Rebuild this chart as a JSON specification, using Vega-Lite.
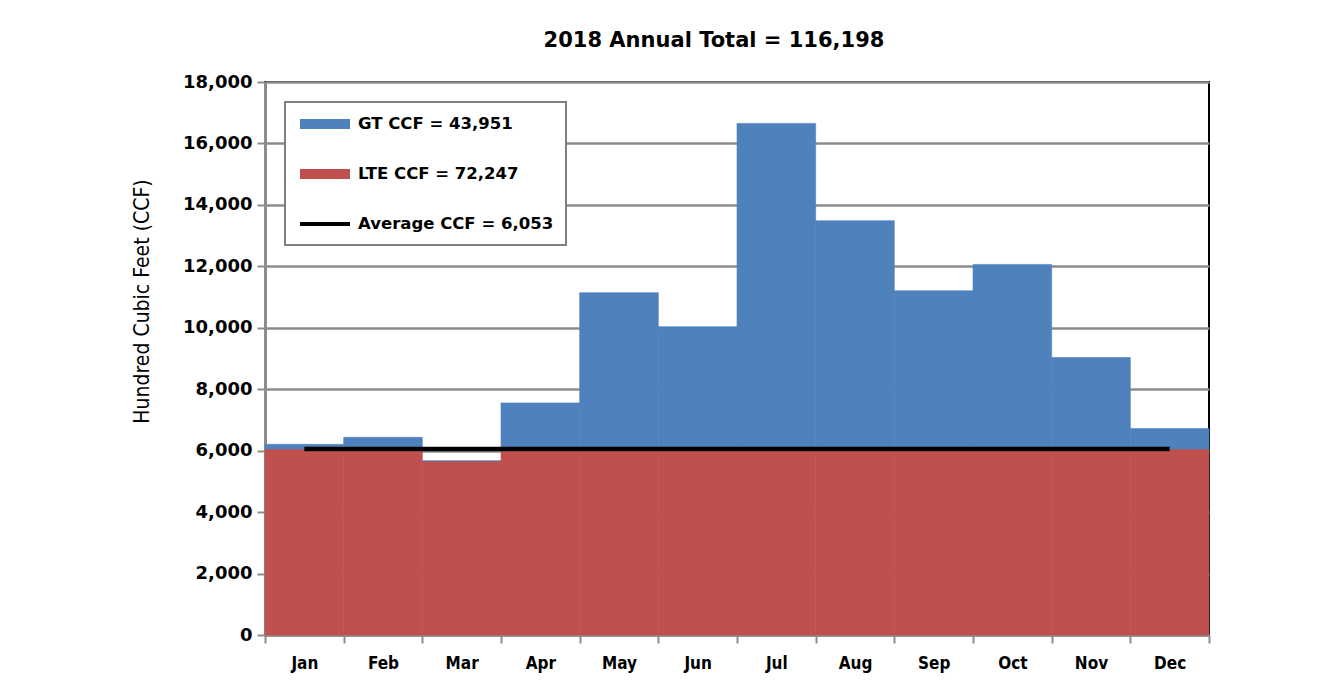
{
  "$schema": "https://vega.github.io/schema/vega-lite/v6.json",
  "width": 944,
  "height": 553,
  "autosize": {"type": "none"},
  "padding": {"left": 265, "top": 82, "right": 129, "bottom": 61},
  "background": "white",
  "title": {
    "text": "2018 Annual Total = 116,198",
    "font": "DejaVu Sans",
    "fontSize": 21,
    "fontWeight": "bold",
    "color": "black",
    "anchor": "middle",
    "offset": 22,
    "dx": -23
  },
  "datasets": {
    "bars": [
      {"month": "Jan", "series": "LTE CCF = 72,247", "ccf": 6053},
      {"month": "Jan", "series": "GT CCF = 43,951", "ccf": 155},
      {"month": "Feb", "series": "LTE CCF = 72,247", "ccf": 6053},
      {"month": "Feb", "series": "GT CCF = 43,951", "ccf": 383},
      {"month": "Mar", "series": "LTE CCF = 72,247", "ccf": 5664},
      {"month": "Mar", "series": "GT CCF = 43,951", "ccf": 0},
      {"month": "Apr", "series": "LTE CCF = 72,247", "ccf": 6053},
      {"month": "Apr", "series": "GT CCF = 43,951", "ccf": 1500},
      {"month": "May", "series": "LTE CCF = 72,247", "ccf": 6053},
      {"month": "May", "series": "GT CCF = 43,951", "ccf": 5090},
      {"month": "Jun", "series": "LTE CCF = 72,247", "ccf": 6053},
      {"month": "Jun", "series": "GT CCF = 43,951", "ccf": 3983},
      {"month": "Jul", "series": "LTE CCF = 72,247", "ccf": 6053},
      {"month": "Jul", "series": "GT CCF = 43,951", "ccf": 10600},
      {"month": "Aug", "series": "LTE CCF = 72,247", "ccf": 6053},
      {"month": "Aug", "series": "GT CCF = 43,951", "ccf": 7434},
      {"month": "Sep", "series": "LTE CCF = 72,247", "ccf": 6053},
      {"month": "Sep", "series": "GT CCF = 43,951", "ccf": 5150},
      {"month": "Oct", "series": "LTE CCF = 72,247", "ccf": 6053},
      {"month": "Oct", "series": "GT CCF = 43,951", "ccf": 6010},
      {"month": "Nov", "series": "LTE CCF = 72,247", "ccf": 6053},
      {"month": "Nov", "series": "GT CCF = 43,951", "ccf": 2981},
      {"month": "Dec", "series": "LTE CCF = 72,247", "ccf": 6053},
      {"month": "Dec", "series": "GT CCF = 43,951", "ccf": 665}
    ],
    "avg": [
      {"month": "Jan", "series": "Average CCF = 6,053", "ccf": 6053},
      {"month": "Feb", "series": "Average CCF = 6,053", "ccf": 6053},
      {"month": "Mar", "series": "Average CCF = 6,053", "ccf": 6053},
      {"month": "Apr", "series": "Average CCF = 6,053", "ccf": 6053},
      {"month": "May", "series": "Average CCF = 6,053", "ccf": 6053},
      {"month": "Jun", "series": "Average CCF = 6,053", "ccf": 6053},
      {"month": "Jul", "series": "Average CCF = 6,053", "ccf": 6053},
      {"month": "Aug", "series": "Average CCF = 6,053", "ccf": 6053},
      {"month": "Sep", "series": "Average CCF = 6,053", "ccf": 6053},
      {"month": "Oct", "series": "Average CCF = 6,053", "ccf": 6053},
      {"month": "Nov", "series": "Average CCF = 6,053", "ccf": 6053},
      {"month": "Dec", "series": "Average CCF = 6,053", "ccf": 6053}
    ]
  },
  "encoding": {
    "x": {
      "field": "month",
      "type": "nominal",
      "sort": ["Jan","Feb","Mar","Apr","May","Jun","Jul","Aug","Sep","Oct","Nov","Dec"],
      "scale": {"paddingInner": 0, "paddingOuter": 0},
      "axis": {
        "title": null,
        "labelAngle": 0,
        "labelFont": "Liberation Sans Narrow, DejaVu Sans Condensed, sans-serif",
        "labelFontSize": 17,
        "labelFontWeight": "bold",
        "labelColor": "black",
        "labelPadding": 12,
        "tickBand": "extent",
        "tickSize": 8,
        "tickColor": "#8c8c8c",
        "tickWidth": 2,
        "domainColor": "#8c8c8c",
        "domainWidth": 2.5
      }
    },
    "y": {
      "field": "ccf",
      "type": "quantitative",
      "scale": {"domain": [0, 18000], "nice": false},
      "axis": {
        "title": "Hundred Cubic Feet (CCF)",
        "titleFont": "Liberation Sans Narrow, DejaVu Sans Condensed, sans-serif",
        "titleFontSize": 21,
        "titleFontWeight": "normal",
        "titleColor": "black",
        "titlePadding": 30,
        "titleY": 219,
        "values": [0,2000,4000,6000,8000,10000,12000,14000,16000,18000],
        "format": ",d",
        "labelFont": "DejaVu Sans",
        "labelFontSize": 18,
        "labelFontWeight": "bold",
        "labelColor": "black",
        "labelPadding": 5,
        "tickSize": 8,
        "tickColor": "#8c8c8c",
        "tickWidth": 2,
        "domainColor": "#8c8c8c",
        "domainWidth": 3,
        "grid": true,
        "gridColor": "#8c8c8c",
        "gridWidth": 2.5
      }
    },
    "color": {
      "field": "series",
      "type": "nominal",
      "scale": {
        "domain": ["GT CCF = 43,951", "LTE CCF = 72,247", "Average CCF = 6,053"],
        "range": ["#4F81BD", "#C0504D", "#000000"]
      },
      "legend": {
        "title": null,
        "orient": "none",
        "legendX": 20,
        "legendY": 20,
        "padding": 12,
        "strokeColor": "#7f7f7f",
        "fillColor": "white",
        "symbolSize": 400,
        "symbolStrokeWidth": 0,
        "symbolOffset": 18,
        "labelFont": "DejaVu Sans",
        "labelFontSize": 16.5,
        "labelFontWeight": "bold",
        "labelColor": "black",
        "labelOffset": 23,
        "labelLimit": 500,
        "rowPadding": 31,
        "labelExpr": "datum.label + '\u00a0\u00a0\u00a0\u00a0'",
        "encode": {
          "legend": {"update": {"strokeWidth": {"value": 2}}},
          "symbols": {
            "update": {
              "shape": {"signal": "indexof(datum.label, 'Average') == 0 ? 'M-2.5,-0.2H2.5V0.2H-2.5Z' : 'M-2.5,-0.5H2.5V0.5H-2.5Z'"}
            }
          }
        }
      }
    }
  },
  "layer": [
    {
      "data": {"name": "bars"},
      "mark": {"type": "bar", "strokeWidth": 0.6},
      "encoding": {
        "y": {"field": "ccf", "type": "quantitative", "stack": "zero"},
        "stroke": {
          "field": "series",
          "type": "nominal",
          "scale": {
            "domain": ["GT CCF = 43,951", "LTE CCF = 72,247"],
            "range": ["#4F81BD", "#C0504D"]
          },
          "legend": null
        },
        "order": {"field": "series", "sort": "descending"}
      }
    },
    {
      "data": {"name": "avg"},
      "mark": {"type": "line", "strokeWidth": 4.5, "strokeCap": "butt"},
      "encoding": {}
    }
  ],
  "resolve": {"scale": {"stroke": "independent"}},
  "config": {
    "view": {"stroke": "black", "strokeWidth": 2},
    "axis": {"zindex": 0}
  }
}
